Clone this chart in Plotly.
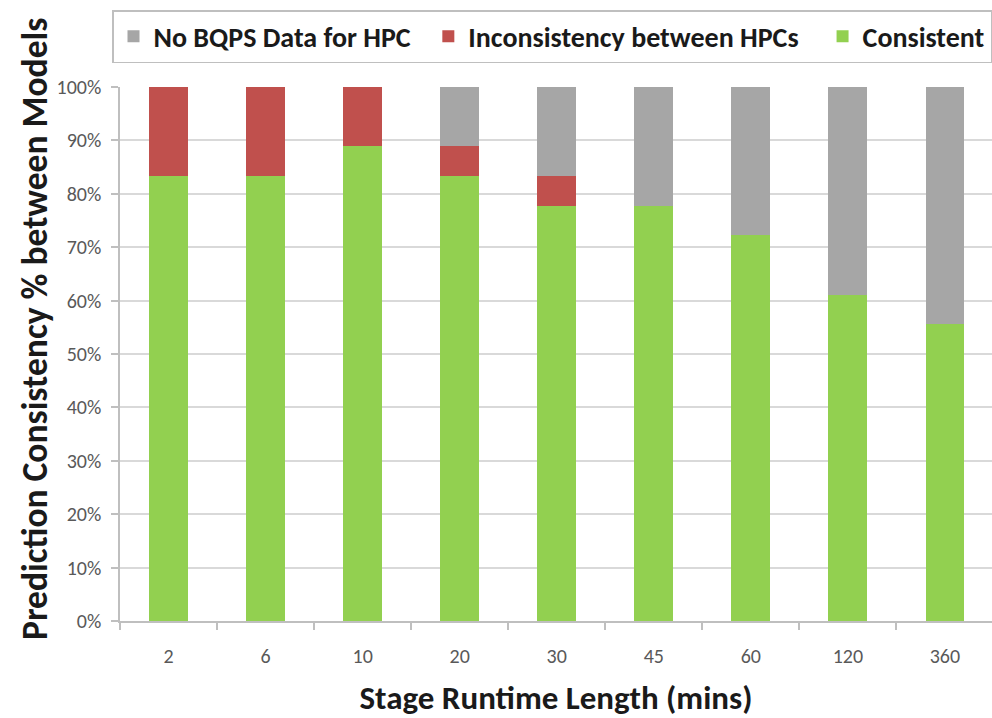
import plotly.graph_objects as go

categories = ["2", "6", "10", "20", "30", "45", "60", "120", "360"]
consistent = [83.3, 83.3, 88.9, 83.3, 77.8, 77.8, 72.2, 61.1, 55.6]
inconsistent = [16.7, 16.7, 11.1, 5.6, 5.6, 0, 0, 0, 0]
no_data = [0, 0, 0, 11.1, 16.6, 22.2, 27.8, 38.9, 44.4]
y_ticks = list(range(0, 101, 10))
y_tick_text = [f"{v}%" for v in y_ticks]

FONT = "Carlito, 'Liberation Sans Narrow', 'Liberation Sans', Arial, sans-serif"
NB = "\u00a0"

fig = go.Figure()
fig.add_trace(go.Bar(x=categories, y=consistent, name="<b>Consistent</b>",
                     marker=dict(color="#92D050", line=dict(width=0)), legendrank=3))
fig.add_trace(go.Bar(x=categories, y=inconsistent, name="<b>Inconsistency between HPCs</b>" + NB * 3,
                     marker=dict(color="#C0504D", line=dict(width=0)), legendrank=2))
fig.add_trace(go.Bar(x=categories, y=no_data, name="<b>No BQPS Data for HPC</b>" + NB * 2,
                     marker=dict(color="#A6A6A6", line=dict(width=0)), legendrank=1))

W, H = 992, 718
ml, mr, mt, mb = 120, 0, 87, 97
pw, ph = W - ml - mr, H - mt - mb

fig.update_layout(
    width=W, height=H, autosize=False,
    margin=dict(l=ml, r=mr, t=mt, b=mb, pad=0),
    barmode="stack", bargap=0.6,
    plot_bgcolor="white", paper_bgcolor="white",
    font=dict(family=FONT, color="#595959"),
    legend=dict(
        orientation="h", x=(114 - ml) / pw, xanchor="left",
        y=1 + (mt - 10) / ph, yanchor="top",
        bgcolor="white", bordercolor="#BFBFBF", borderwidth=1.5,
        font=dict(family=FONT, size=28, color="#1a1a1a"),
        itemsizing="constant", traceorder="normal",
    ),
    xaxis=dict(
        type="category", range=[-0.5, 8.485],
        showline=True, linecolor="#BFBFBF", linewidth=1.5,
        ticks="outside", tickson="boundaries", ticklen=7, tickcolor="#BFBFBF", tickwidth=1.5,
        tickfont=dict(size=20, color="#595959"), ticklabelstandoff=16,
        title=dict(text="<b>Stage Runtime Length (mins)</b>", standoff=20,
                   font=dict(size=33, color="#1a1a1a")),
        showgrid=False,
    ),
    yaxis=dict(
        range=[0, 100], tickvals=y_ticks, ticktext=y_tick_text,
        showline=True, linecolor="#BFBFBF", linewidth=1.5,
        ticks="outside", ticklen=7, tickcolor="#BFBFBF", tickwidth=1.5,
        tickfont=dict(size=20, color="#595959"), ticklabelstandoff=6,
        showgrid=True, gridcolor="#D9D9D9", gridwidth=1.5,
        zeroline=False,
    ),
    annotations=[dict(
        text="<b>Prediction Consistency % between Models</b>",
        textangle=-90, xref="paper", yref="paper",
        x=(35 - ml) / pw, y=1 - (329 - mt) / ph,
        xanchor="center", yanchor="middle", showarrow=False,
        font=dict(family=FONT, size=35.5, color="#1a1a1a"),
    )],
)

fig.write_html("out.html")
